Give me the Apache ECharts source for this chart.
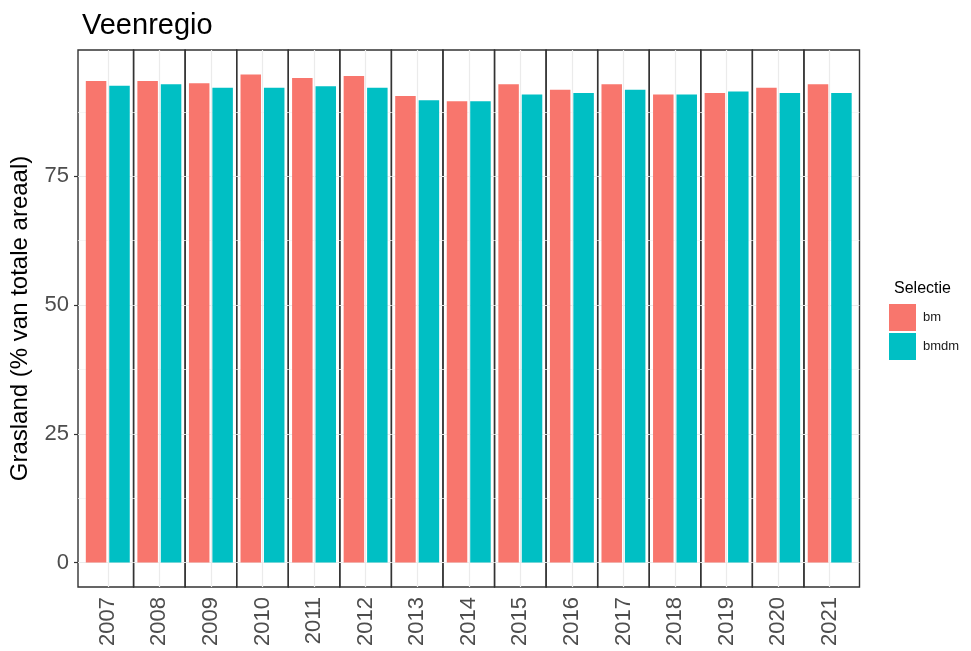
<!DOCTYPE html>
<html>
<head>
<meta charset="utf-8">
<script src="https://cdn.jsdelivr.net/npm/echarts@6/dist/echarts.min.js"></script>
<style>
  html, body { margin: 0; padding: 0; background: #fff; }
  #chart { width: 971px; height: 651px; }
</style>
</head>
<body>
<div id="chart"></div>
<script>
// facet per jaar, twee selecties per paneel
const years = ['2007', '2008', '2009', '2010', '2011', '2012', '2013', '2014', '2015', '2016', '2017', '2018', '2019', '2020', '2021']
const bm = [93.5, 93.5, 93.1, 94.8, 94.1, 94.5, 90.6, 89.6, 92.9, 91.8, 92.9, 90.9, 91.2, 92.2, 92.9]
const bmdm = [92.6, 92.9, 92.2, 92.2, 92.5, 92.2, 89.8, 89.6, 90.9, 91.2, 91.8, 90.9, 91.5, 91.2, 91.2]
const yTicks = [0, 25, 50, 75]
const yMinor = [12.5, 37.5, 62.5, 87.5]

const chart = echarts.init(document.getElementById('chart'))

const FONT = '"Liberation Sans", Arial, sans-serif'
const outerLeft = 78
const outerRight = 859.5
const innerLeft = 82
const innerRight = 855.5
const panelW = (innerRight - innerLeft) / years.length
const unit = panelW / 2.2 // ggplot discrete scale: 2 categories + 0.6 expansion each side
const panelTop = 50
const panelH = 537
const yMax = 99.54
const yMin = -4.74

const grids = []
const xAxes = []
const yAxes = []
const series = []

years.forEach((year, i) => {
  let left = innerLeft + i * panelW
  let right = left + panelW
  let xMin = 0.4
  let xMax = 2.6
  if (i === 0) {
    xMin -= (left - outerLeft) / unit
    left = outerLeft
  }
  if (i === years.length - 1) {
    xMax += (outerRight - right) / unit
    right = outerRight
  }

  grids.push({
    left: left,
    top: panelTop,
    width: right - left,
    height: panelH,
    show: true,
    borderColor: '#333333',
    borderWidth: 1.4,
    backgroundColor: 'transparent',
    containLabel: false,
    outerBoundsMode: 'none',
  })

  xAxes.push({
    gridIndex: i,
    type: 'value',
    min: xMin,
    max: xMax,
    axisLine: { show: false },
    axisTick: { show: false },
    splitLine: { show: false },
    axisLabel: {
      customValues: [1.5],
      formatter: () => year,
      rotate: 90,
      margin: 10,
      fontSize: 22,
      fontFamily: FONT,
      color: '#4D4D4D',
    },
  })

  const first = i === 0
  yAxes.push({
    gridIndex: i,
    type: 'value',
    min: yMin,
    max: yMax,
    name: first ? 'Grasland (% van totale areaal)' : '',
    nameLocation: 'middle',
    nameGap: 46,
    nameTextStyle: { fontSize: 24, fontFamily: FONT, color: '#000' },
    axisLine: { show: false },
    splitLine: { show: false },
    axisTick: {
      show: first,
      customValues: yTicks,
      length: 4,
      lineStyle: { color: '#333333', width: 1.2 },
    },
    axisLabel: {
      show: first,
      customValues: yTicks,
      margin: 9,
      fontSize: 22,
      fontFamily: FONT,
      color: '#4D4D4D',
    },
  })

  // rasterlijnen, achter de staven
  const major = { color: '#EBEBEB', width: 1.2, type: 'solid' }
  const minor = { color: '#F4F4F4', width: 0.8, type: 'solid' }
  series.push({
    type: 'line',
    xAxisIndex: i,
    yAxisIndex: i,
    data: [],
    silent: true,
    markLine: {
      silent: true,
      symbol: 'none',
      animation: false,
      label: { show: false },
      lineStyle: { type: 'solid' },
      data: [
        ...yTicks.map((v) => ({ yAxis: v, lineStyle: major })),
        ...yMinor.map((v) => ({ yAxis: v, lineStyle: minor })),
        { xAxis: 1.5, lineStyle: major },
      ],
    },
  })

  // staven op een eigen laag boven de rasterlijnen
  series.push({
    name: 'bm',
    type: 'bar',
    xAxisIndex: i,
    yAxisIndex: i,
    barWidth: 20.5,
    barGap: '-100%',
    zlevel: 1,
    itemStyle: { color: '#F8766D' },
    data: [[1, bm[i]]],
  })
  series.push({
    name: 'bmdm',
    type: 'bar',
    xAxisIndex: i,
    yAxisIndex: i,
    barWidth: 20.5,
    barGap: '-100%',
    zlevel: 1,
    itemStyle: { color: '#00BFC4' },
    data: [[2, bmdm[i]]],
  })
})

const option = {
  animation: false,
  backgroundColor: '#fff',
  title: [
    {
      text: 'Veenregio',
      left: 77,
      top: 6,
      textStyle: { fontSize: 29, fontWeight: 'normal', fontFamily: FONT, color: '#000' },
    },
    {
      text: 'Selectie',
      left: 889,
      top: 276,
      textStyle: { fontSize: 16, fontWeight: 'normal', fontFamily: FONT, color: '#000' },
    },
  ],
  legend: {
    data: ['bm', 'bmdm'],
    orient: 'vertical',
    left: 889,
    top: 304,
    padding: 0,
    icon: 'rect',
    itemWidth: 27,
    itemHeight: 27,
    itemGap: 2,
    textStyle: { fontSize: 13, fontFamily: FONT, color: '#1A1A1A', padding: [0, 0, 0, 2] },
  },
  grid: grids,
  xAxis: xAxes,
  yAxis: yAxes,
  series: series,
}

chart.setOption(option)
</script>
</body>
</html>
